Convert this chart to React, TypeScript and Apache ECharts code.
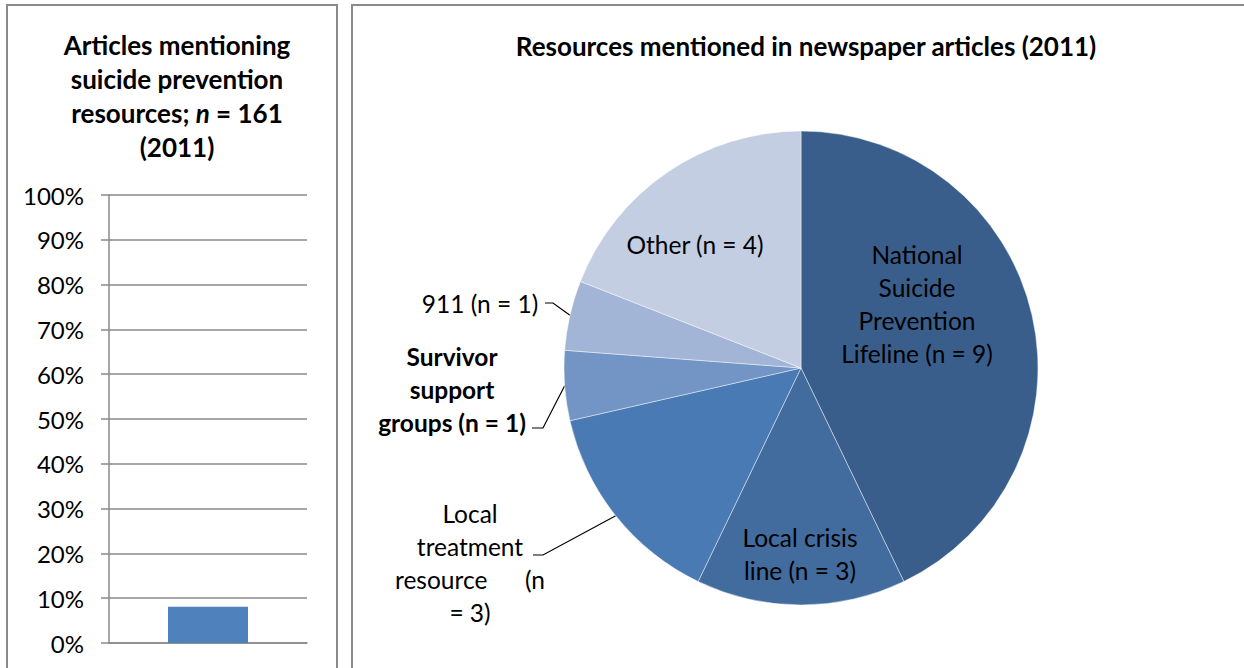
import React, { useEffect, useRef } from "react";
import * as echarts from "echarts";

const barCategories = ["Articles"];
const barValues = [0.081];
const yTickValues = [0, 0.1, 0.2, 0.3, 0.4, 0.5, 0.6, 0.7, 0.8, 0.9, 1];

const pieNames = [
  "National Suicide Prevention Lifeline",
  "Local crisis line",
  "Local treatment resource",
  "Survivor support groups",
  "911",
  "Other",
];
const pieValues = [9, 3, 3, 1, 1, 4];
const pieLabels = [
  "National\nSuicide\nPrevention\nLifeline (n = 9)",
  "Local crisis\nline (n = 3)",
  "Local\ntreatment\nresource      (n\n= 3)",
  "Survivor\nsupport\ngroups (n = 1)",
  "911 (n = 1)",
  "Other (n = 4)",
];
const pieColors = ["#3A5E8C", "#426B9E", "#4A7AB4", "#7295C6", "#A3B5D6", "#C3CEE2"];

const FONT = "Lato, 'Noto Sans', sans-serif";
const CX = 801;
const CY = 368;
const R = 237;

// label placement offsets relative to pie centre (style only)
const labelPlace: { dx: number; dy: number; bend?: [number, number]; end?: [number, number]; inside: boolean; bold?: boolean }[] = [
  { dx: 116, dy: -64, inside: true },
  { dx: -1, dy: 186, inside: true },
  { dx: -331, dy: 195, bend: [-258, 187], end: [-268, 187], inside: false },
  { dx: -349, dy: 21, bend: [-258, 60], end: [-269, 60], inside: false, bold: true },
  { dx: -321, dy: -65, bend: [-248, -65], end: [-256, -65], inside: false },
  { dx: -106, dy: -124, inside: true },
];

export default function App() {
  const ref = useRef<HTMLDivElement>(null);
  useEffect(() => {
    if (!ref.current) return;
    const chart = echarts.init(ref.current, null, { renderer: "svg" });
    const total = pieValues.reduce((a, b) => a + b, 0);
    const midAngles: number[] = [];
    let acc = 0;
    pieValues.forEach((v) => {
      midAngles.push(((acc + v / 2) / total) * Math.PI * 2);
      acc += v;
    });

    const option: any = {
      animation: false,
      backgroundColor: "#fff",
      textStyle: { fontFamily: FONT },
      title: [
        {
          text: "Articles mentioning\nsuicide prevention\nresources; {i|n} = 161\n(2011)",
          left: 172,
          top: 23,
          textAlign: "center",
          textStyle: {
            fontFamily: FONT,
            fontSize: 26,
            fontWeight: "bold",
            color: "#000",
            lineHeight: 34,
            rich: {
              i: { fontFamily: FONT, fontSize: 26, fontWeight: "bold", fontStyle: "italic", color: "#000", lineHeight: 34 },
            },
          },
        },
        {
          text: "Resources mentioned in newspaper articles (2011)",
          left: 801,
          top: 28,
          textAlign: "center",
          textStyle: { fontFamily: FONT, fontSize: 26, fontWeight: "bold", color: "#000" },
        },
      ],
      graphic: [
        { type: "rect", shape: { x: 7, y: 5, width: 330, height: 700 }, style: { fill: "none", stroke: "#8a8a8a", lineWidth: 2 }, silent: true },
        { type: "rect", shape: { x: 352, y: 5, width: 900, height: 700 }, style: { fill: "none", stroke: "#8a8a8a", lineWidth: 2 }, silent: true },
      ],
      grid: { left: 109, top: 195, width: 198, height: 448, containLabel: false },
      xAxis: {
        type: "category",
        data: barCategories,
        axisLine: { show: true, lineStyle: { color: "#8a8a8a", width: 1.5 } },
        axisTick: { show: false },
        axisLabel: { show: false },
      },
      yAxis: {
        type: "value",
        min: yTickValues[0],
        max: yTickValues[yTickValues.length - 1],
        interval: 0.1,
        axisLine: { show: true, lineStyle: { color: "#8a8a8a", width: 1.5 } },
        axisTick: { show: true, length: 8, lineStyle: { color: "#8a8a8a", width: 1.5 } },
        splitLine: { show: true, lineStyle: { color: "#8a8a8a", width: 1.5 } },
        axisLabel: {
          fontFamily: FONT,
          fontSize: 24,
          color: "#000",
          margin: 25,
          formatter: (v: number) => Math.round(v * 100) + "%",
        },
      },
      series: [
        {
          type: "bar",
          data: barValues,
          barWidth: 80,
          itemStyle: { color: "#4F81BD" },
        },
        {
          type: "pie",
          center: [CX, CY],
          radius: R,
          startAngle: 90,
          clockwise: true,
          itemStyle: { borderColor: "rgba(255,255,255,0.55)", borderWidth: 0.8 },
          data: pieNames.map((n, i) => ({
            name: n,
            value: pieValues[i],
            itemStyle: { color: pieColors[i] },
            label: {
              show: true,
              position: labelPlace[i].inside ? "inside" : "outside",
              formatter: () => pieLabels[i],
              fontFamily: FONT,
              fontSize: 24.5,
              lineHeight: 33,
              fontWeight: labelPlace[i].bold ? "bold" : "normal",
              color: "#000",
              align: "center",
            },
            labelLine: {
              show: !labelPlace[i].inside,
              lineStyle: { color: "#000", width: 1.2 },
            },
          })),
          labelLayout: (params: any) => {
            const i = params.dataIndex;
            const p = labelPlace[i];
            const a = midAngles[i];
            const res: any = { x: CX + p.dx, y: CY + p.dy, align: "center", verticalAlign: "middle" };
            if (p.bend && p.end) {
              res.labelLinePoints = [
                [CX + R * Math.sin(a), CY - R * Math.cos(a)],
                [CX + p.bend[0], CY + p.bend[1]],
                [CX + p.end[0], CY + p.end[1]],
              ];
            }
            return res;
          },
        },
      ],
    };
    chart.setOption(option);
    return () => chart.dispose();
  }, []);
  return (
    <div
      ref={ref}
      style={{ position: "fixed", left: 0, top: 0, width: 1244, height: 668, background: "#fff" }}
    />
  );
}
